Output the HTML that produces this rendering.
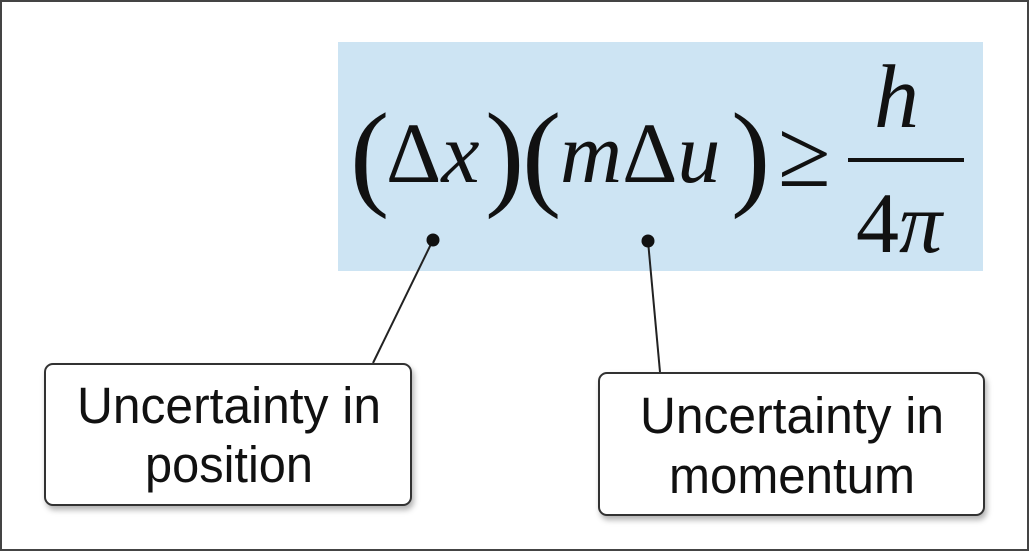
<!DOCTYPE html>
<html><head><meta charset="utf-8"><style>
html,body{margin:0;padding:0;background:#fff;}
svg{display:block;}
</style></head><body>
<svg width="1029" height="551" viewBox="0 0 1029 551">
  <defs>
    <filter id="sh" x="-10%" y="-10%" width="130%" height="140%">
      <feDropShadow dx="2" dy="4" stdDeviation="3" flood-color="#000" flood-opacity="0.3"/>
    </filter>
  </defs>
  <rect x="1" y="1" width="1027" height="549" fill="#fff" stroke="#444" stroke-width="2"/>
  <rect x="338" y="42" width="645" height="229" fill="#cde4f3"/>
  <g font-family="Liberation Serif, serif" fill="#111">
    <text x="350" y="194" font-size="118" font-weight="300">(</text>
    <text x="386" y="182" font-size="86">Δ<tspan font-style="italic">x</tspan></text>
    <text x="485" y="194" font-size="118">)</text>
    <text x="522" y="194" font-size="118">(</text>
    <text x="560" y="182" font-size="86"><tspan font-style="italic">m</tspan>Δ<tspan font-style="italic">u</tspan></text>
    <text x="731" y="194" font-size="118">)</text>
    <text x="778" y="186" font-size="96">≥</text>
    <text x="874" y="127" font-size="90" font-style="italic">h</text>
    <rect x="848" y="158" width="116" height="4" fill="#111"/>
    <text x="856" y="252" font-size="86">4<tspan font-style="italic">π</tspan></text>
  </g>
  <line x1="433" y1="240" x2="373" y2="363" stroke="#222" stroke-width="2"/>
  <circle cx="433" cy="240" r="6.5" fill="#111"/>
  <line x1="648" y1="241" x2="660" y2="372" stroke="#222" stroke-width="2"/>
  <circle cx="648" cy="241" r="6.5" fill="#111"/>
  <g>
    <rect x="45" y="364" width="366" height="141" rx="8" fill="#fff" stroke="#333" stroke-width="2" filter="url(#sh)"/>
    <text x="229" y="423" font-family="Liberation Sans, sans-serif" font-size="51" text-anchor="middle" textLength="304" lengthAdjust="spacingAndGlyphs" fill="#111">Uncertainty in</text>
    <text x="229" y="482" font-family="Liberation Sans, sans-serif" font-size="51" text-anchor="middle" textLength="168" lengthAdjust="spacingAndGlyphs" fill="#111">position</text>
  </g>
  <g>
    <rect x="599" y="373" width="385" height="142" rx="8" fill="#fff" stroke="#333" stroke-width="2" filter="url(#sh)"/>
    <text x="792" y="433" font-family="Liberation Sans, sans-serif" font-size="51" text-anchor="middle" textLength="304" lengthAdjust="spacingAndGlyphs" fill="#111">Uncertainty in</text>
    <text x="792" y="493" font-family="Liberation Sans, sans-serif" font-size="51" text-anchor="middle" textLength="246" lengthAdjust="spacingAndGlyphs" fill="#111">momentum</text>
  </g>
</svg>
</body></html>
